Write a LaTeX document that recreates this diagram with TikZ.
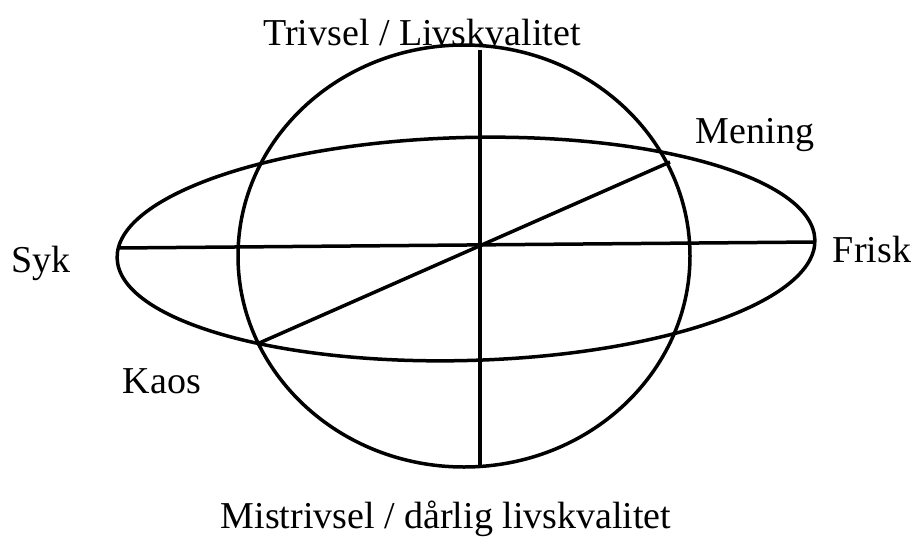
\documentclass[tikz,border=0pt]{standalone}
\usepackage{fontspec}
\setmainfont{Liberation Serif}
\usetikzlibrary{positioning}
\tikzset{
  ring/.style ={draw, line width=3.5pt},
  axis/.style ={draw, line width=3.5pt},
  lbl/.style  ={font=\fontsize{38}{46}\selectfont, inner sep=0pt, anchor=base},
}

\begin{document}
\begin{tikzpicture}[x=1pt, y=1pt]
  \useasboundingbox (0,0) rectangle (918,-538);

  % circle and flat ellipse
  \path[ring] (464,-256) ellipse [x radius=226, y radius=211];
  \path[ring, rotate around={1.5:(466,-249)}] (466,-249) ellipse [x radius=349, y radius=111.5];

  % axis end points
  \coordinate (vtop) at (480,-50);
  \coordinate (vbot) at (480,-466);
  \coordinate (hl) at (118,-248);
  \coordinate (hr) at (815,-242);
  \coordinate (dl) at (257,-344);
  \coordinate (du) at (670,-162);

  \draw[axis] (vtop) -- (vbot);
  \draw[axis] (hl) -- (hr);
  \draw[axis] (dl) -- (du);

  \node[lbl] (trivsel) at (422,-45) {Trivsel / Livskvalitet};
  \node[lbl] (mistrivsel) at (446,-528) {Mistrivsel / dårlig livskvalitet};
  \node[lbl] (syk) at (41,-272) {Syk};
  \node[lbl] (frisk) at (872,-262) {Frisk};
  \node[lbl] (mening) at (755,-143) {Mening};
  \node[lbl] (kaos) at (162,-393) {Kaos};
\end{tikzpicture}
\end{document}
